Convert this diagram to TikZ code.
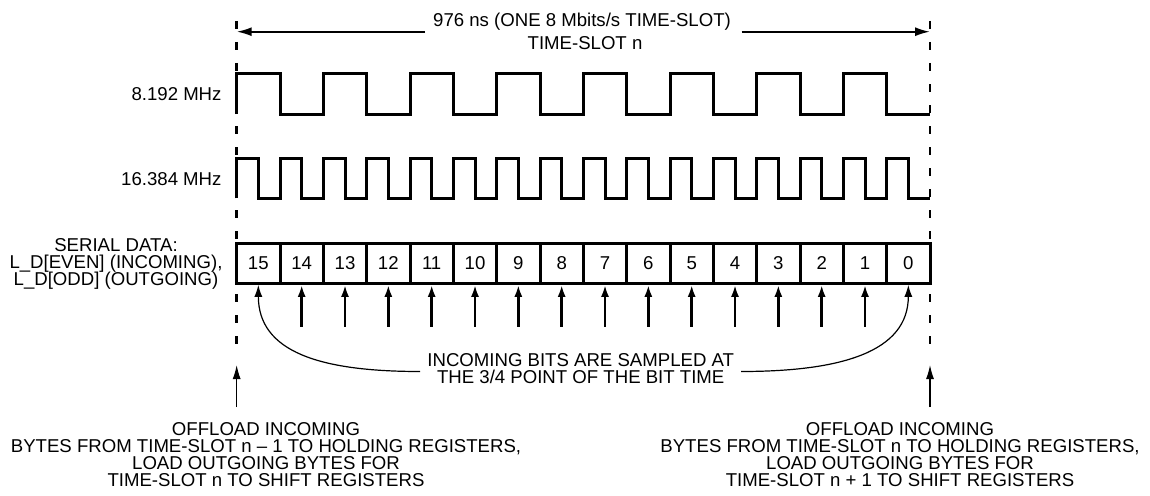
\documentclass[tikz,border=0pt]{standalone}
\usepackage{fontspec}
\setmainfont{Liberation Sans}
\usetikzlibrary{arrows.meta}
\begin{document}
\begin{tikzpicture}[x=1pt,y=-1pt,
  txt/.style={font=\fontsize{18.6}{17}\selectfont, inner sep=0pt, anchor=base},
  clk/.style={line width=3pt, line join=miter},
  cell/.style={draw, line width=3pt, minimum width=43.33pt, minimum height=40pt, inner sep=0pt, font=\fontsize{18.6}{17}\selectfont},
  dashline/.style={line width=2.5pt, dash pattern=on 8pt off 13pt},
  sarrow/.style={line width=2.5pt, -{Latex[length=12pt,width=8pt]}},
  carrow/.style={line width=1.2pt, -{Latex[length=12pt,width=8pt]}},
  barrow/.style={line width=1.2pt, -{Latex[length=14pt,width=8pt]}},
  tarrow/.style={line width=2pt, -{Latex[length=15pt,width=9pt]}}
]
\useasboundingbox (0,0) rectangle (1150,495);

% dashed time-slot boundaries
\coordinate (dlt) at (236.67,21);
\coordinate (dlb) at (236.67,350);
\coordinate (drt) at (930,21);
\coordinate (drb) at (930,350);
\draw[dashline] (dlt) -- (dlb);
\draw[dashline] (drt) -- (drb);

% top dimension
\node[txt] (title) at (582,26.7) {976 ns (ONE 8 Mbits/s TIME-SLOT)};
\node[txt] (slot) at (585,50) {TIME-SLOT n};
\coordinate (tal) at (425,31.7);
\coordinate (tar) at (741.7,31.7);
\coordinate (tl) at (236.67,31.7);
\coordinate (tr) at (930,31.7);
\draw[tarrow] (tal) -- (tl);
\draw[tarrow] (tar) -- (tr);

% clocks
\node[txt, anchor=base east] (clk8) at (221.7,100) {8.192 MHz};
\node[txt, anchor=base east] (clk16) at (221.7,185) {16.384 MHz};
\draw[clk] (236.67,114) \foreach \k in {0,...,7} { -- ++(0,-40.67) -- ++(43.333,0) -- ++(0,40.67) -- ++(43.333,0) };
\draw[clk] (236.67,198.33) \foreach \k in {0,...,15} { -- ++(0,-40) -- ++(21.667,0) -- ++(0,40) -- ++(21.667,0) };

% serial data label
\node[txt] (sd1) at (116,251.7) {SERIAL DATA:};
\node[txt] (sd2) at (116,268.3) {L\_D[EVEN] (INCOMING),};
\node[txt] (sd3) at (116,285) {L\_D[ODD] (OUTGOING)};

% data cells and sampling arrows
\foreach \i in {0,...,15} {
  \pgfmathsetmacro{\bit}{int(15-\i)}
  \node[cell] (c\bit) at ({236.67+43.333*(\i+0.5)},263.33) {\bit};
  \coordinate (t\bit) at ({236.67+43.333*(\i+0.5)},326.7);
}
\foreach \b in {1,...,14} { \draw[sarrow] (t\b) -- (c\b.south); }

% sampling note
\node[txt] (note1) at (580.7,366.7) {INCOMING BITS ARE SAMPLED AT};
\node[txt] (note2) at (580.7,383.3) {THE 3/4 POINT OF THE BIT TIME};
\coordinate (nl) at (420,371.5);
\coordinate (nr) at (741,371.5);
\draw[carrow] (nl) .. controls (320,371.5) and (258.33,352) .. (c15.south);
\draw[carrow] (nr) .. controls (841,371.5) and (908.33,352) .. (c0.south);

% bottom arrows
\coordinate (bl0) at (236.67,407);
\coordinate (bl1) at (236.67,365);
\coordinate (br0) at (930,407);
\coordinate (br1) at (930,365);
\draw[barrow] (bl0) -- (bl1);
\draw[barrow] (br0) -- (br1);

% bottom texts
\node[txt] (l1) at (266,435) {OFFLOAD INCOMING};
\node[txt] (l2) at (266,452) {BYTES FROM TIME-SLOT n -- 1 TO HOLDING REGISTERS,};
\node[txt] (l3) at (266,469) {LOAD OUTGOING BYTES FOR};
\node[txt] (l4) at (266,486) {TIME-SLOT n TO SHIFT REGISTERS};
\node[txt] (r1) at (900,435) {OFFLOAD INCOMING};
\node[txt] (r2) at (900,452) {BYTES FROM TIME-SLOT n TO HOLDING REGISTERS,};
\node[txt] (r3) at (900,469) {LOAD OUTGOING BYTES FOR};
\node[txt] (r4) at (900,486) {TIME-SLOT n + 1 TO SHIFT REGISTERS};
\end{tikzpicture}
\end{document}
